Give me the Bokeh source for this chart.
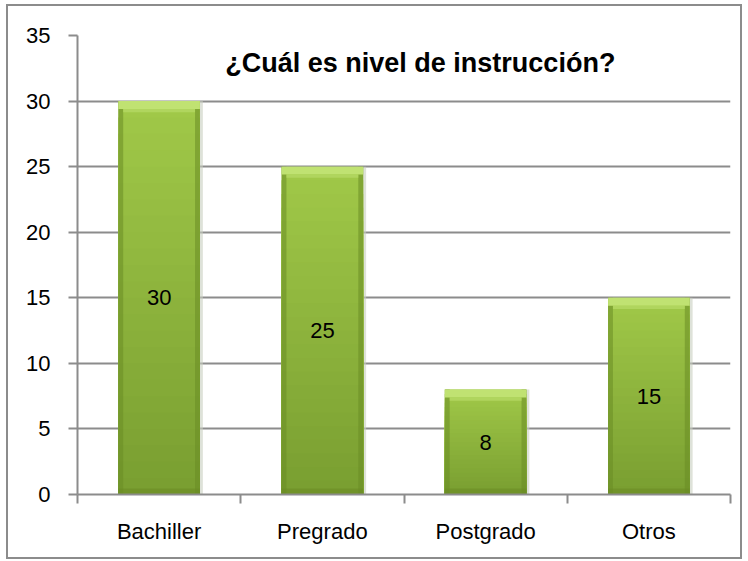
from bokeh.plotting import figure
from bokeh.models import FixedTicker, Label, Range1d, ColumnDataSource
from bokeh.core.properties import value
from bokeh.embed import file_html
from bokeh.resources import INLINE

categories = ["Bachiller", "Pregrado", "Postgrado", "Otros"]
counts = [30, 25, 8, 15]
y_ticks = [0, 5, 10, 15, 20, 25, 30, 35]
title_text = "¿Cuál es nivel de instrucción?"

FONT = "Liberation Sans"
GRID = "#8c8c8c"

xs = [i + 0.5 for i in range(len(categories))]

p = figure(width=736, height=555, output_backend="svg", toolbar_location=None,
           x_range=Range1d(0, len(categories)), y_range=Range1d(0, 35),
           min_border_left=69, min_border_right=14, min_border_top=29, min_border_bottom=67)
p.styles = {"border": "2px solid #8c8c8c", "margin-left": "6px", "margin-top": "4px"}
p.outline_line_color = None
p.background_fill_color = "white"
p.border_fill_color = "white"

# grid
p.xgrid.visible = False
p.ygrid.grid_line_color = GRID
p.ygrid.grid_line_width = 2

# y axis
p.yaxis.ticker = FixedTicker(ticks=y_ticks, minor_ticks=[])
p.yaxis.axis_line_color = GRID
p.yaxis.axis_line_width = 2
p.yaxis.major_tick_line_color = GRID
p.yaxis.major_tick_line_width = 2
p.yaxis.major_tick_in = 0
p.yaxis.major_tick_out = 9
p.yaxis.major_label_standoff = 18
p.yaxis.major_label_text_font = FONT
p.yaxis.major_label_text_font_size = "22px"
p.yaxis.major_label_text_color = "black"

# x axis
p.xaxis.ticker = FixedTicker(ticks=xs, minor_ticks=list(range(len(categories) + 1)))
p.xaxis.major_label_overrides = {x: c for x, c in zip(xs, categories)}
p.xaxis.axis_line_color = GRID
p.xaxis.axis_line_width = 2
p.xaxis.major_tick_out = 0
p.xaxis.major_tick_in = 0
p.xaxis.minor_tick_line_color = GRID
p.xaxis.minor_tick_line_width = 2
p.xaxis.minor_tick_in = 0
p.xaxis.minor_tick_out = 9
p.xaxis.major_label_standoff = 15
p.xaxis.major_label_text_font = FONT
p.xaxis.major_label_text_font_size = "22px"
p.xaxis.major_label_text_color = "black"

bw = 0.5
# shadow
p.vbar(x=[x + 0.012 for x in xs], top=counts, bottom=-0.25, width=bw + 0.012,
       fill_color="#c8cfc0", fill_alpha=0.6, line_color=None)


def mix(c1, c2, t):
    a = [int(c1[i:i + 2], 16) for i in (1, 3, 5)]
    b = [int(c2[i:i + 2], 16) for i in (1, 3, 5)]
    return "#%02x%02x%02x" % tuple(round(a[i] + (b[i] - a[i]) * t) for i in range(3))


# vertical gradient: light at top to darker at bottom
TOP_C, BOT_C = "#a0c848", "#789d30"
n = 24
p.vbar(x=xs, top=counts, width=bw, fill_color=TOP_C, line_color=None)
for k in range(1, n):
    f = 1 - k / n
    p.vbar(x=xs, top=[c * f for c in counts], width=bw, fill_color=mix(TOP_C, BOT_C, k / n),
           line_color=None)
# darker side edges
edge = 0.03
p.vbar(x=[x - bw / 2 + edge / 2 for x in xs], top=counts, width=edge,
       fill_color="#6a8c25", fill_alpha=0.55, line_color=None)
p.vbar(x=[x + bw / 2 - edge / 2 for x in xs], top=counts, width=edge,
       fill_color="#6a8c25", fill_alpha=0.55, line_color=None)
# light top bevel
p.vbar(x=xs, top=counts, bottom=[c - 0.6 for c in counts], width=bw,
       fill_color="#c0e272", line_color=None)
p.vbar(x=xs, top=[c - 0.6 for c in counts], bottom=[c - 0.85 for c in counts], width=bw - 0.06,
       fill_color="#b0d55e", line_color=None)
# bottom dark
p.vbar(x=xs, top=0.45, bottom=0, width=bw, fill_color="#6a8c25", fill_alpha=0.6, line_color=None)

# data labels
src = ColumnDataSource(dict(x=xs, y=[c / 2 for c in counts], t=[str(c) for c in counts]))
p.text(x="x", y="y", text="t", source=src, text_align="center", text_baseline="middle",
       text_font=value(FONT), text_font_size="22px", text_color="black")

# title inside plot area
p.add_layout(Label(x=2.1, y=32.9, text=title_text, text_align="center", text_baseline="middle",
                   text_font=FONT, text_font_style="bold",
                   text_font_size="27px", text_color="black"))

open("out.html", "w").write(file_html(p, INLINE))
